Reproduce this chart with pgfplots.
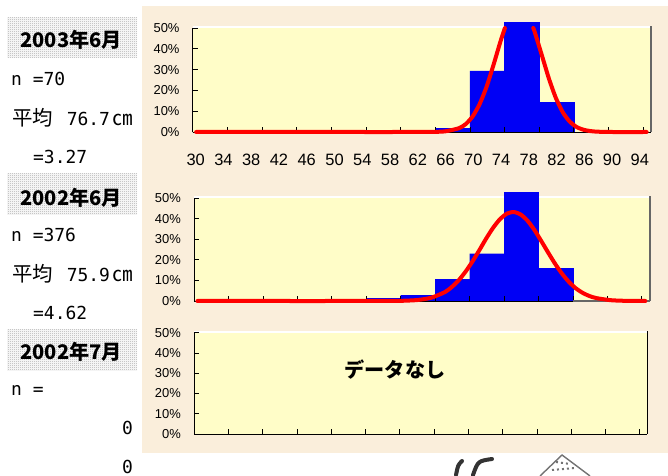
\documentclass[border=0pt]{standalone}
\usepackage{fontspec}
\setmainfont{Liberation Sans}
\newfontfamily\monof{DejaVu Sans Mono}
\newfontfamily\cjk{Noto Sans CJK JP}
\usepackage{pgfplots}
\usetikzlibrary{patterns}
\pgfplotsset{compat=1.18}
\definecolor{bgc}{HTML}{FAEEDB}
\definecolor{plotbg}{HTML}{FFFDC8}
\definecolor{hdr}{HTML}{A8A8A8}
\definecolor{barblue}{HTML}{0000F5}
\definecolor{redc}{HTML}{FF0000}
\definecolor{edge}{HTML}{666666}
\pgfdeclarepatternformonly{dots50}{\pgfqpoint{0bp}{0bp}}{\pgfqpoint{2bp}{2bp}}{\pgfqpoint{2bp}{2bp}}{
  \pgfpathrectangle{\pgfqpoint{0bp}{0bp}}{\pgfqpoint{1bp}{1bp}}
  \pgfpathrectangle{\pgfqpoint{1bp}{1bp}}{\pgfqpoint{1bp}{1bp}}
  \pgfusepath{fill}
}
\newcommand{\mono}{\fontsize{18}{20}\selectfont\monof}
\newcommand{\kan}{\fontsize{20.5}{22}\selectfont\cjk}
\newcommand{\hd}{\fontsize{20.2}{22}\selectfont\cjk\bfseries}
\pgfplotsset{
  panel/.style={
    scale only axis, clip=false,
    xmin=30, ymin=0, ymax=50,
    axis x line*=bottom, axis y line*=left,
    axis line style={black, line width=0.9bp, -},
    xtick={30,35,...,95}, xticklabels={},
    ytick={0,10,...,50},
    yticklabels={0\%,10\%,20\%,30\%,40\%,50\%},
    tick align=inside, tick style={black, line width=0.8bp},
    major tick length=5bp,
    yticklabel style={inner sep=0pt, xshift=-13bp, font=\fontsize{13}{14}\selectfont},
  },
  under/.style={
    scale only axis, clip=false, hide axis,
    xmin=30, ymin=0, ymax=50,
    axis background/.style={fill=plotbg},
  },
  histo/.style={ybar interval, fill=barblue, draw=barblue, line width=0.2bp},
  bell/.style={redc, line width=4bp, line cap=round, line join=round, smooth, tension=0.4},
}
\begin{document}
\begin{tikzpicture}
\path[use as bounding box] (0bp,0bp) rectangle (668bp,476bp);
\fill[bgc] (142bp,23bp) rectangle (668bp,470bp);

% header boxes
\fill[pattern=dots50, pattern color=hdr] (7bp,418bp) rectangle (137bp,458bp);
\fill[pattern=dots50, pattern color=hdr] (7bp,261bp) rectangle (137bp,302bp);
\fill[pattern=dots50, pattern color=hdr] (7bp,105bp) rectangle (137bp,146bp);
\node[inner sep=0pt] at (71bp,436bp) {\hd 2003年6月};
\node[inner sep=0pt] at (71bp,278bp) {\hd 2002年6月};
\node[inner sep=0pt] at (71bp,124bp) {\hd 2002年7月};

% side text
\node[anchor=base west,inner sep=0pt] at (11bp,390bp) {\mono n =70};
\node[anchor=base west,inner sep=0pt] at (12bp,350bp) {\kan 平均\mono\ \hspace{3bp}76.7\hspace{2bp}\kan ㎝};
\node[anchor=base west,inner sep=0pt] at (33bp,312bp) {\mono =3.27};
\node[anchor=base west,inner sep=0pt] at (11bp,234bp) {\mono n =376};
\node[anchor=base west,inner sep=0pt] at (12bp,194bp) {\kan 平均\mono\ \hspace{3bp}75.9\hspace{2bp}\kan ㎝};
\node[anchor=base west,inner sep=0pt] at (33bp,156bp) {\mono =4.62};
\node[anchor=base west,inner sep=0pt] at (11bp,80bp) {\mono n =};
\node[anchor=base east,inner sep=0pt] at (133bp,41bp) {\mono 0};
\node[anchor=base east,inner sep=0pt] at (133bp,3bp) {\mono 0};

% 2003
\begin{axis}[under, at={(192.7bp,344bp)}, anchor=south west, width=458bp, height=104bp, xmax=96.09]
\draw[white, line width=1.8bp] (axis cs:30,50.4) -- (axis cs:96.09,50.4);
\addplot[histo] coordinates {(65,1.8) (70,29.4) (75,52.6) (80,14.3) (85,0)};
\end{axis}
\begin{axis}[panel, at={(192.7bp,344bp)}, anchor=south west, width=458bp, height=104bp, xmax=96.09]
\draw[edge, line width=1.6bp] (axis cs:96.09,50.8) -- (axis cs:96.09,0);
\addplot[bell] coordinates {(30.5,0) (40,0) (50,0) (60,0) (64.4,0.05) (66.4,0.3) (68.4,1.8) (69.4,3.8) (70.4,7.5) (71.4,13.4) (72.4,21.7) (73.4,32.2) (74.4,43.4) (75.05,50)};
\addplot[bell] coordinates {(79.15,50) (79.4,47.6) (80.4,36.7) (81.4,25.7) (82.4,16.4) (83.4,9.5) (84.4,5.0) (85.4,2.4) (86.4,1.07) (87.4,0.43) (88.4,0.15) (90.4,0) (95.5,0)};
\end{axis}

% labels under the first panel
\begin{axis}[scale only axis, at={(193bp,322bp)}, anchor=south west, width=452bp, height=10bp,
  xmin=29.61, xmax=94.74, ymin=0, ymax=1, hide y axis, axis x line*=bottom,
  x axis line style={draw=none}, major tick length=0pt, tick style={draw=none},
  xtick={30,34,...,94},
  xticklabels={30,34,38,42,46,50,54,58,62,66,70,74,78,82,86,90,94},
  xticklabel style={inner sep=0pt, font=\fontsize{16.5}{17}\selectfont}]
\end{axis}

% 2002 June
\begin{axis}[under, at={(194bp,175bp)}, anchor=south west, width=456bp, height=103bp, xmax=96.18]
\draw[white, line width=1.8bp] (axis cs:30,50.4) -- (axis cs:96.18,50.4);
\addplot[histo] coordinates {(55,1.3) (60,2.9) (65,10.5) (70,23) (75,52.7) (80,16) (85,0)};
\end{axis}
\begin{axis}[panel, at={(194bp,175bp)}, anchor=south west, width=456bp, height=103bp, xmax=96.18]
\draw[edge, line width=1.6bp] (axis cs:85,0) -- (axis cs:96.18,0);
\draw[edge, line width=1.6bp] (axis cs:96.18,50.8) -- (axis cs:96.18,0);
\addplot[bell] coordinates {(30.5,0) (40,0) (50,0) (58.4,0.03) (60.4,0.12) (62.4,0.47) (64.4,1.56) (66.4,4.3) (67.4,6.76) (68.4,10) (69.4,14.2) (70.4,19.1) (71.4,24.6) (72.4,30.3) (73.4,35.5) (74.4,39.7) (75.4,42.4) (76.4,43.2) (77.4,42) (78.4,39) (79.4,34.5) (80.4,29.1) (81.4,23.5) (82.4,18.1) (83.4,13.3) (84.4,9.3) (85.4,6.2) (86.4,3.96) (87.4,2.4) (88.4,1.4) (90.4,0.41) (92.4,0.1) (95.5,0)};
\end{axis}

% 2002 July
\begin{axis}[under, at={(194bp,42bp)}, anchor=south west, width=453.3bp, height=101.3bp, xmax=96.08]
\draw[white, line width=1.8bp] (axis cs:30,50.4) -- (axis cs:96.08,50.4);
\end{axis}
\begin{axis}[panel, at={(194bp,42bp)}, anchor=south west, width=453.3bp, height=101.3bp, xmax=96.08]
\draw[black, line width=0.9bp] (axis cs:96.08,50.8) -- (axis cs:96.08,0);
\end{axis}
\node[inner sep=0pt] at (395bp,106bp) {\hd データなし};

% clip art cut off by the page edge
\draw[black!80, line width=4bp, line cap=round] (462bp,15bp) .. controls (458bp,11bp) .. (456bp,1bp);
\draw[black!80, line width=4bp, line cap=round] (492bp,17bp) .. controls (478bp,15bp) .. (473bp,1bp);
\draw[black!55, line width=1.4bp] (540bp,0bp) -- (562bp,21bp) -- (590bp,0bp);
\draw[black!55, line width=2bp, dash pattern=on 2bp off 3bp] (552bp,6bp) -- (575bp,8bp);
\draw[black!55, line width=2bp, dash pattern=on 2bp off 3bp] (556bp,14bp) -- (570bp,12bp);
\end{tikzpicture}
\end{document}
